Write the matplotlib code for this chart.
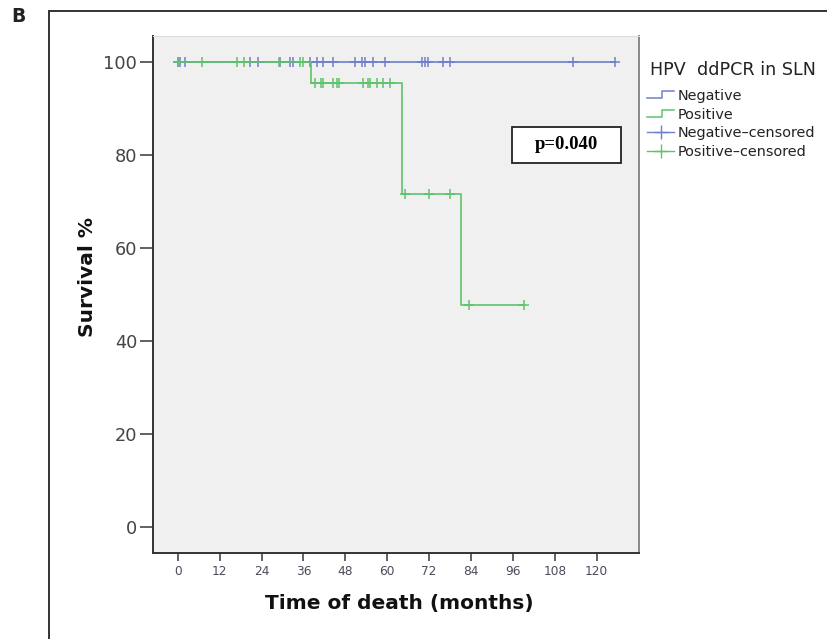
import numpy as np
import matplotlib
matplotlib.use("Agg")
import matplotlib.pyplot as plt
from matplotlib.lines import Line2D
from matplotlib.legend_handler import HandlerBase
from matplotlib.patches import Rectangle

# Kaplan-Meier data (months, survival %)
neg_end = 125.3
pos_event_times = [38.2, 64.2, 81.1]
pos_surv = [100, 95.45, 71.6, 47.7]
pos_end = 99.2

neg_censor = [0.0, 0.8, 2.0, 20.8, 22.9, 29.3, 32.2, 33.1, 37.9, 39.8, 41.7,
              44.6, 50.8, 52.7, 53.7, 56.0, 59.4, 69.9, 70.9, 71.8, 76.1,
              78.0, 113.2, 125.3]
pos_censor = [0.2, 7.0, 16.9, 19.1, 29.0, 35.0, 36.0, 39.3, 41.0, 41.7, 44.6,
              45.6, 46.3, 53.2, 54.6, 55.1, 57.0, 58.9, 60.8, 65.1, 72.1,
              78.0, 83.3, 99.2]

xticks = list(range(0, 121, 12))
yticks = [0, 20, 40, 60, 80, 100]
labels = ["Negative", "Positive", "Negative\u2013censored", "Positive\u2013censored"]

blue = "#6f7fca"
green = "#5fc26c"


def surv_at(t, times, surv):
    return surv[np.searchsorted(times, t, side="right")]


class StepHandler(HandlerBase):
    def create_artists(self, legend, orig, xdescent, ydescent, width, height,
                       fontsize, trans):
        xs = np.array([0, 0.55, 0.55, 1.0]) * width - xdescent
        ys = np.array([0.15, 0.15, 0.85, 0.85]) * height - ydescent
        ln = Line2D(xs, ys, color=orig.get_color(), lw=1.1)
        ln.set_transform(trans)
        return [ln]


fig = plt.figure(figsize=(8.28, 6.39), dpi=100)
ax = fig.add_axes([0.1848, 0.1351, 0.5873, 0.8086])
ax.set_facecolor("#f0f0f0")

# negative group: no events
ax.step([0, neg_end], [100, 100], where="post", color=blue, lw=1.2)
ax.plot(neg_censor, [100] * len(neg_censor), "+", color=blue, ms=7, mew=1.1)

# positive group
px = [0] + pos_event_times + [pos_end]
py = pos_surv + [pos_surv[-1]]
ax.step(px, py, where="post", color=green, lw=1.2)
pc_y = [surv_at(t, pos_event_times, pos_surv) for t in pos_censor]
ax.plot(pos_censor, pc_y, "+", color=green, ms=7, mew=1.1)

ax.set_xlim(-7.07, 132.2)
ax.set_ylim(-5.6, 105.5)
ax.set_xticks(xticks)
ax.set_yticks(yticks)
ax.tick_params(axis="x", direction="out", length=6, width=1.3, colors="#555555",
               labelsize=8.7, pad=3, labelcolor="#4a4a5a")
ax.tick_params(axis="y", direction="out", length=9.4, width=1.3, colors="#555555",
               labelsize=12.8, pad=2, labelcolor="#444444")

ax.spines["left"].set_color("#333333")
ax.spines["bottom"].set_color("#333333")
ax.spines["left"].set_linewidth(1.4)
ax.spines["bottom"].set_linewidth(1.4)
ax.spines["right"].set_color("#888888")
ax.spines["right"].set_linewidth(1.4)
ax.spines["top"].set_color("#dddddd")

# p-value box
ax.add_patch(Rectangle((0.739, 0.755), 0.223, 0.0685, transform=ax.transAxes,
                       facecolor="white", edgecolor="#222222", lw=1.3, zorder=5))
ax.text(0.85, 0.789, "p=0.040", transform=ax.transAxes, ha="center", va="center",
        family="Liberation Serif", fontweight="bold", fontsize=13.5, zorder=6)

fig.text(88 / 828, 1 - 277 / 639, "Survival %", rotation=90, ha="center",
         va="center", fontsize=14.5, fontweight="bold", color="#111111")
fig.text(399 / 828, 1 - 603 / 639, "Time of death (months)", ha="center",
         va="center", fontsize=14.5, fontweight="bold", color="#111111")

# legend
fig.text(650 / 828, 1 - 70 / 639, "HPV  ddPCR in SLN", ha="left", va="center",
         fontsize=12.6, color="#222222")
h_neg = Line2D([], [], color=blue)
h_pos = Line2D([], [], color=green)
h_negc = Line2D([], [], color=blue, marker="+", ms=10, mew=1.0, lw=1.0)
h_posc = Line2D([], [], color=green, marker="+", ms=10, mew=1.0, lw=1.0)
leg = fig.legend([h_neg, h_pos, h_negc, h_posc], labels,
                 handler_map={h_neg: StepHandler(), h_pos: StepHandler()},
                 loc="upper left",
                 bbox_to_anchor=(647 / 828, 1 - 89 / 639), frameon=False,
                 fontsize=10.4, handlelength=1.9, handletextpad=0.25,
                 labelspacing=0.32, borderpad=0, borderaxespad=0)
for t in leg.get_texts():
    t.set_color("#222222")

# outer frame and panel letter
fig.add_artist(Line2D([49 / 828, 49 / 828], [0, 1 - 11 / 639], color="#333333",
                      lw=1.4, transform=fig.transFigure))
fig.add_artist(Line2D([49 / 828, 1], [1 - 11 / 639, 1 - 11 / 639], color="#333333",
                      lw=1.4, transform=fig.transFigure))
fig.text(18 / 828, 1 - 17 / 639, "B", ha="center", va="center", fontsize=13.5,
         fontweight="bold", color="#222222")

fig.savefig("out.png", dpi=100)
